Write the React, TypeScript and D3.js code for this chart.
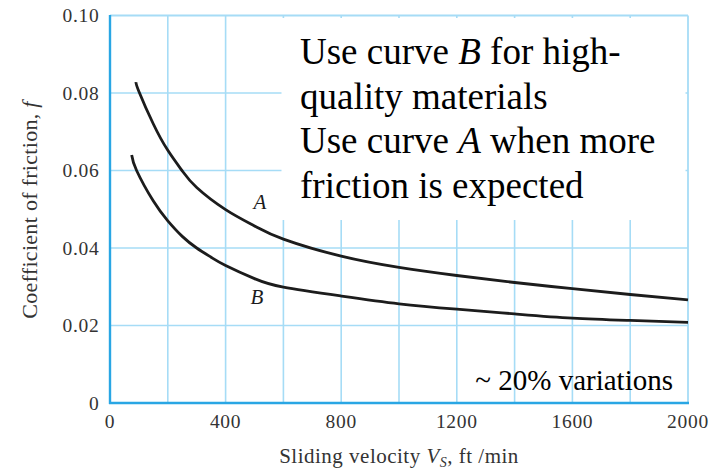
import React from "react";
import * as d3 from "d3";

const curveA_v = [90, 100, 150, 200, 250, 300, 400, 500, 600, 800, 1000, 1200, 1400, 1600, 1800, 2000];
const curveA_f = [0.0828, 0.0804, 0.072, 0.0652, 0.0599, 0.0556, 0.0499, 0.0457, 0.0423, 0.0379, 0.035, 0.0329, 0.0311, 0.0295, 0.028, 0.0266];
const curveB_v = [75, 92, 150, 200, 250, 300, 350, 400, 500, 600, 800, 1000, 1200, 1400, 1600, 1800, 2000];
const curveB_f = [0.064, 0.06, 0.0521, 0.047, 0.043, 0.04, 0.0376, 0.0355, 0.0321, 0.0299, 0.0276, 0.0256, 0.0242, 0.023, 0.0219, 0.0213, 0.0208];
const xTicks = [0, 400, 800, 1200, 1600, 2000];
const yTicks = [0, 0.02, 0.04, 0.06, 0.08, 0.1];
const yTickLabels = ["0", "0.02", "0.04", "0.06", "0.08", "0.10"];
const xGrid = [200, 400, 600, 800, 1000, 1200, 1400, 1600, 1800];
const yGrid = [0.02, 0.04, 0.06, 0.08];
const noteLines = [
  ["Use curve ", "B", " for high-"],
  ["quality materials"],
  ["Use curve ", "A", " when more"],
  ["friction is expected"],
];

const FONT = "'Liberation Serif', 'Times New Roman', Times, serif";
const GRID = "#a6dcf6";
const AXIS = "#29a6e4";
const LABEL = "#333";

export default function App() {
  const x = d3.scaleLinear().domain([0, 2000]).range([110, 688]);
  const y = d3.scaleLinear().domain([0, 0.1]).range([403, 15.5]);
  const line = d3
    .line<[number, number]>()
    .x((d) => x(d[0]))
    .y((d) => y(d[1]))
    .curve(d3.curveNatural);
  const dA = line(curveA_v.map((v, i) => [v, curveA_f[i]] as [number, number])) || "";
  const dB = line(curveB_v.map((v, i) => [v, curveB_f[i]] as [number, number])) || "";

  return (
    <svg width={712} height={470} style={{ position: "absolute", left: 0, top: 0, background: "#fff" }} fontFamily={FONT}>
      {xGrid.map((v) => (
        <line key={"gx" + v} x1={x(v)} x2={x(v)} y1={y(0)} y2={y(0.1)} stroke={GRID} strokeWidth={1.6} />
      ))}
      {yGrid.map((v) => (
        <line key={"gy" + v} x1={x(0)} x2={x(2000)} y1={y(v)} y2={y(v)} stroke={GRID} strokeWidth={1.6} />
      ))}
      <rect x={281.5} y={18} width={404} height={202} fill="#fff" />
      <line x1={x(0)} x2={x(2000)} y1={y(0.1)} y2={y(0.1)} stroke={GRID} strokeWidth={1.8} />
      <line x1={x(2000)} x2={x(2000)} y1={y(0)} y2={y(0.1)} stroke={GRID} strokeWidth={1.8} />
      <line x1={x(0)} x2={x(0)} y1={y(0) + 1} y2={y(0.1) - 0.5} stroke={AXIS} strokeWidth={2.4} />
      <line x1={x(0) - 1} x2={x(2000) + 1} y1={y(0)} y2={y(0)} stroke={AXIS} strokeWidth={2.4} />

      <path d={dA} fill="none" stroke="#1c1c1c" strokeWidth={2.8} />
      <path d={dB} fill="none" stroke="#1c1c1c" strokeWidth={2.8} />

      <text x={260} y={209} fontSize={21} fontStyle="italic" textAnchor="middle" fill="#1c1c1c">A</text>
      <text x={257} y={304} fontSize={21} fontStyle="italic" textAnchor="middle" fill="#1c1c1c">B</text>

      {yTicks.map((v, i) => (
        <text key={"yt" + v} x={99.5} y={y(v) + 6.5} fontSize={19.5} letterSpacing={0.7} textAnchor="end" fill={LABEL}>
          {yTickLabels[i]}
        </text>
      ))}
      {xTicks.map((v) => (
        <text key={"xt" + v} x={x(v)} y={428} fontSize={19.5} letterSpacing={0.7} textAnchor="middle" fill={LABEL}>
          {v}
        </text>
      ))}

      <text x={399} y={463} fontSize={21} letterSpacing={0.5} textAnchor="middle" fill={LABEL}>
        Sliding velocity <tspan fontStyle="italic">V</tspan>
        <tspan fontStyle="italic" fontSize={14} dy={4}>S</tspan>
        <tspan dy={-4}>, ft /min</tspan>
      </text>
      <text transform="translate(37,210) rotate(-90)" fontSize={22} letterSpacing={0.3} textAnchor="middle" fill={LABEL}>
        Coefficient of friction, <tspan fontStyle="italic">f</tspan>
      </text>

      {noteLines.map((parts, i) => (
        <text key={"n" + i} x={300} y={64 + i * 44.7} fontSize={37} fill="#000">
          {parts.map((p, j) =>
            p === "A" || p === "B" ? (
              <tspan key={j} fontStyle="italic">{p}</tspan>
            ) : (
              <tspan key={j}>{p}</tspan>
            )
          )}
        </text>
      ))}
      <text x={673} y={390} fontSize={29} textAnchor="end" fill="#000">~ 20% variations</text>
    </svg>
  );
}
